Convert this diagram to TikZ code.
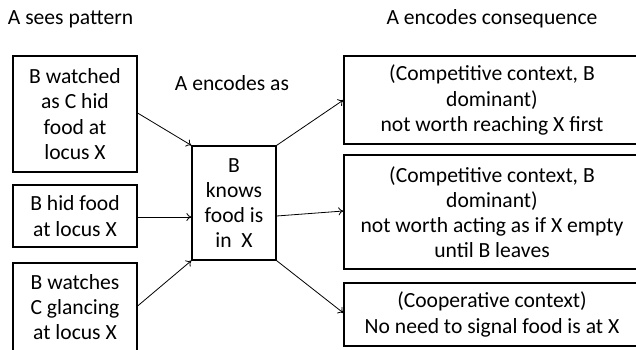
\documentclass[tikz,border=0pt]{standalone}
\usepackage{fontspec}
\usetikzlibrary{arrows.meta}
\setmainfont{Carlito}
\begin{document}
\begin{tikzpicture}[x=1pt,y=-1pt,
  box/.style={draw, line width=1.2pt, inner sep=0pt, align=center, font=\fontsize{21.6}{25.2}\selectfont},
  lbl/.style={inner sep=0pt, font=\fontsize{21.6}{25.2}\selectfont},
  arr/.style={-{To[length=5pt,width=8pt]}, line width=0.8pt}]
\clip (0,0) rectangle (636,350);
\useasboundingbox (0,0) rectangle (636,350);
\node[lbl] (t1) at (70.5,19) {A sees pattern};
\node[lbl] (t2) at (232,83) {A encodes as};
\node[lbl] (t3) at (492,19) {A encodes consequence};
\node[box, minimum width=124pt, minimum height=116pt] (b1) at (75,114) {B watched\\as C hid\\food at\\locus X};
\node[box, minimum width=124pt, minimum height=62pt] (b2) at (75,216) {B hid food\\at locus X};
\node[box, minimum width=124pt, minimum height=88pt] (b3) at (75,307) {B watches\\C glancing\\at locus X};
\node[box, minimum width=84pt, minimum height=114pt] (c) at (234,203) {B\\knows\\food is\\in\ \ X};
\node[box, minimum width=296pt, minimum height=88pt] (r1) at (492,100) {(Competitive context, B\\dominant)\\not worth reaching X first};
\node[box, minimum width=296pt, minimum height=114pt] (r2) at (492,212) {(Competitive context, B\\dominant)\\not worth acting as if X empty\\until B leaves};
\node[box, minimum width=296pt, minimum height=63pt] (r3) at (492,314.5) {(Cooperative context)\\No need to signal food is at X};
\coordinate (b2e) at ([yshift=-1pt]b2.east);
\draw[arr] ([yshift=1pt]b1.east) -- (c.north west);
\draw[arr] (b2e) -- (c.west |- b2e);
\draw[arr] ([yshift=1pt]b3.east) -- (c.south west);
\draw[arr] (c.north east) -- (r1.west);
\draw[arr] ([yshift=-13pt]c.east) -- ([yshift=1pt]r2.west);
\draw[arr] (c.south east) -- ([yshift=1.5pt]r3.west);
\end{tikzpicture}
\end{document}
